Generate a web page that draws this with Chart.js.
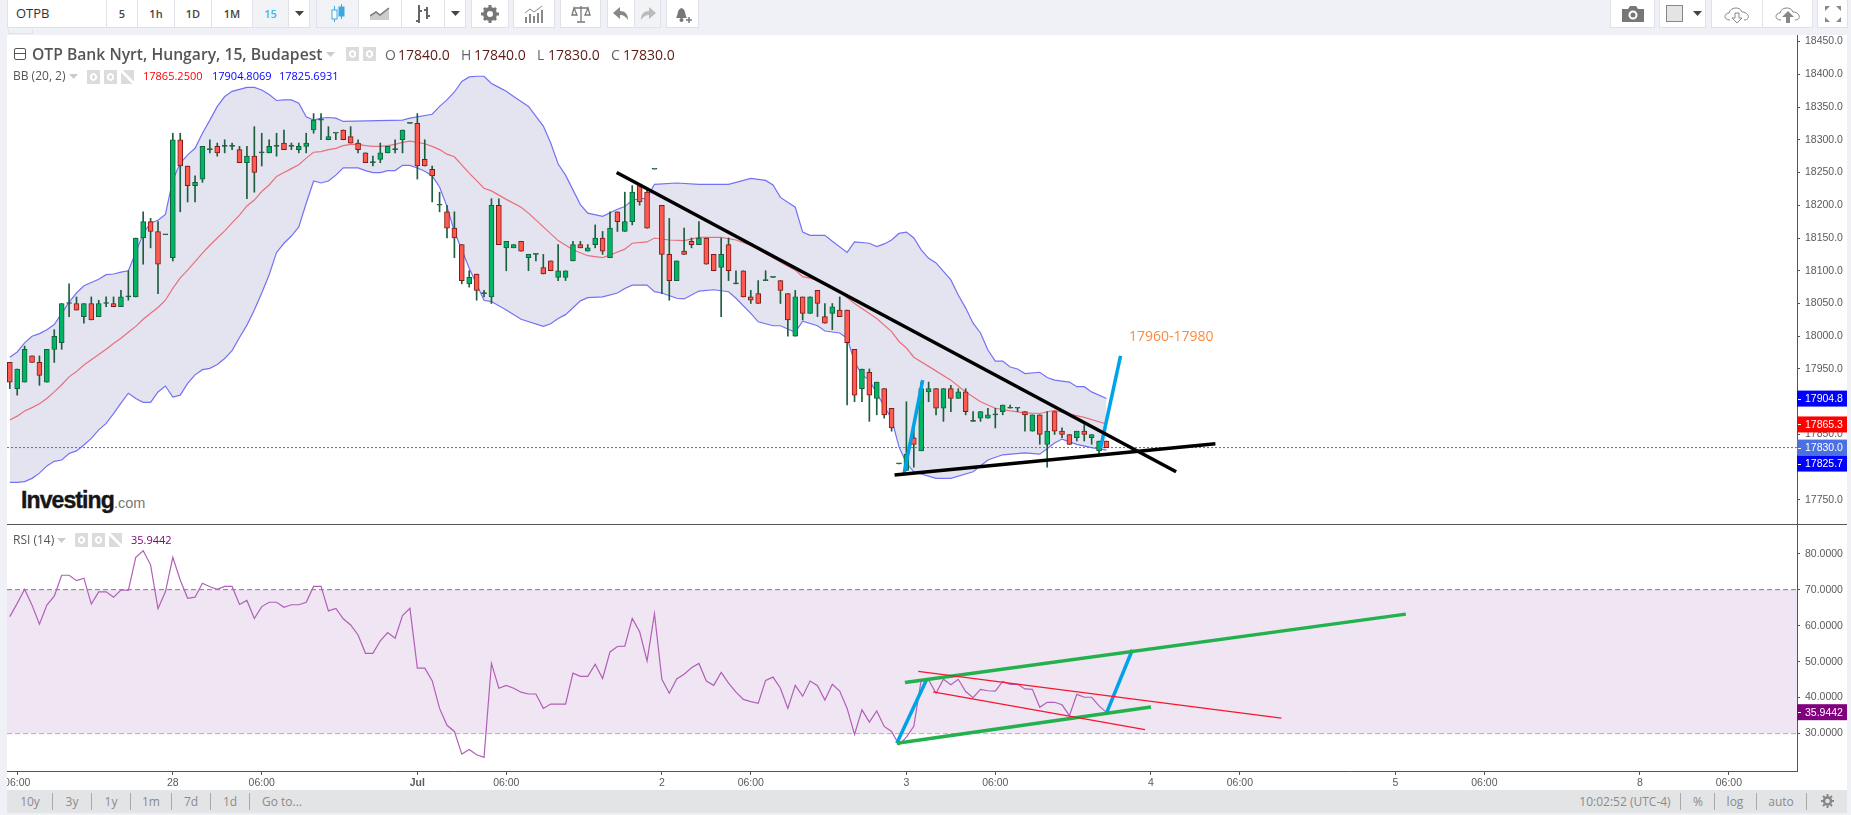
<!DOCTYPE html>
<html>
<head>
<meta charset="utf-8">
<title>OTPB</title>
<script src="https://cdn.jsdelivr.net/npm/chart.js@4"></script>
<style>
html, body { margin: 0; padding: 0; }
body { width: 1851px; height: 815px; background: #eff1f6; overflow: hidden; position: relative; font-family: "Open Sans", sans-serif; color: #555; }
.b { position: absolute; top: 0; height: 28px; line-height: 27px; background: #fff; border: 1px solid #dfe2e8; border-top: 0; box-sizing: border-box; text-align: center; font-size: 11px; color: #444; font-weight: 600; }
.b svg { vertical-align: middle; margin-top: -3px; }
.t { position: absolute; white-space: nowrap; }
.c { position: absolute; white-space: nowrap; transform: translateX(-50%); top: 793px; font-size: 12px; color: #8b8b8b; }
.s { position: absolute; top: 793px; height: 17px; width: 1px; background: #a9a9ab; }
.g { position: absolute; width: 13px; height: 14px; background: radial-gradient(circle at center, #dcdcdc 1.5px, #fff 2px, #fff 3.5px, #dcdcdc 4px); }
.x { background: linear-gradient(45deg, #dcdcdc 44%, #fff 44%, #fff 56%, #dcdcdc 56%); }
#pane { position: absolute; left: 7px; top: 35px; width: 1840px; height: 755px; background: #fff; }
#bar { position: absolute; left: 7px; top: 790px; width: 1840px; height: 23px; background: #e3e4e6; }
#priceChart { position: absolute; left: 7px; top: 35px; }
#rsiChart { position: absolute; left: 7px; top: 524px; }
#split { position: absolute; left: 7px; top: 524px; width: 1840px; height: 1px; background: #555; }
</style>
</head>
<body>
<div class="b" style="left:7px;width:100px;text-align:left;padding-left:8px;font-size:13px;font-weight:400;color:#333">OTPB</div>
<div class="b" style="left:106px;width:32px">5</div>
<div class="b" style="left:137px;width:38px">1h</div>
<div class="b" style="left:174px;width:38px">1D</div>
<div class="b" style="left:211px;width:42px">1M</div>
<div class="b" style="left:252px;width:37px;background:#f2f3f6;color:#4ab3e8">15</div>
<div class="b" style="left:288px;width:22px"><svg width="9" height="5"><path d="M0 0H9L4.5 5Z" fill="#444"/></svg></div>
<div class="b" style="left:316px;width:43px;background:#f2f3f6"><svg width="16" height="22"><g fill="none" stroke="#3ca8e0"><path d="M4.5 3V19M11.5 1V16"/><rect x="2" y="7" width="5" height="9" fill="#fff"/><rect x="9" y="4" width="5" height="9" fill="#3ca8e0"/></g></svg></div>
<div class="b" style="left:358px;width:44px"><svg width="20" height="14"><path d="M0 13V9L6 5L10 8L19 1V13Z" fill="#ccc"/><path d="M0 9L6 5L10 8L19 1" fill="none" stroke="#777" stroke-width="1.5"/></svg></div>
<div class="b" style="left:401px;width:44px"><svg width="18" height="22"><path d="M5 2V20M13 4V16M2 18H5M5 8H8M10 7H13M13 13H16" stroke="#666" stroke-width="2" fill="none"/></svg></div>
<div class="b" style="left:444px;width:22px"><svg width="9" height="5"><path d="M0 0H9L4.5 5Z" fill="#444"/></svg></div>
<div class="b" style="left:471px;width:38px"><svg width="18" height="18"><circle cx="9" cy="9" r="5" fill="none" stroke="#777" stroke-width="4"/><path d="M9 0V3M9 15V18M0 9H3M15 9H18M3 3L5 5M13 13L15 15M15 3L13 5M5 13L3 15" stroke="#777" stroke-width="3"/></svg></div>
<div class="b" style="left:513px;width:42px"><svg width="20" height="18"><path d="M2 18V12M6 18V9M10 18V11M14 18V8M18 18V5" stroke="#888" stroke-width="2"/><path d="M1 8L6 4L10 7L18 1" fill="none" stroke="#888"/></svg></div>
<div class="b" style="left:560px;width:41px"><svg width="20" height="18"><path d="M10 1V16M6 17H14M3 3H17M3 3L1 10H6ZM17 3L14 10H19Z" fill="none" stroke="#777" stroke-width="1.3"/></svg></div>
<div class="b" style="left:607px;width:28px"><svg width="16" height="14"><path d="M7 0L0 6L7 12V8C11 8 13 10 15 13C15 7 12 4 7 4Z" fill="#888"/></svg></div>
<div class="b" style="left:634px;width:27px;background:#f2f3f6"><svg width="16" height="14"><path d="M9 0L16 6L9 12V8C5 8 3 10 1 13C1 7 4 4 9 4Z" fill="#bbb"/></svg></div>
<div class="b" style="left:666px;width:33px"><svg width="20" height="20"><path d="M3 14C5 12 4 5 8.500 4C13 5 12 12 14 14Z" fill="#777"/><circle cx="8.500" cy="16" r="2" fill="#777"/><path d="M13 16H19M16 13V19" stroke="#777" stroke-width="1.5"/></svg></div>
<div class="b" style="left:1610px;width:45px"><svg width="22" height="17"><path d="M0 4H6L8 1H14L16 4H22V17H0Z" fill="#777"/><circle cx="11" cy="10" r="3.500" fill="none" stroke="#fff" stroke-width="2"/></svg></div>
<div class="b" style="left:1659px;width:47px;text-align:left;padding-left:6px"><svg width="17" height="17"><rect x=".5" y=".5" width="16" height="16" fill="#e4e4e4" stroke="#888"/></svg><svg width="9" height="5" style="margin-left:10px"><path d="M0 0H9L4.500 5Z" fill="#444"/></svg></div>
<div class="b" style="left:1711px;width:52px"><svg width="28" height="18"><path d="M7 15C0 15 1 8 6 8C7 2 17 1 19 7C26 7 28 15 21 15" fill="none" stroke="#888"/><path d="M12 8H16V13H19L14 18L9 13H12Z" fill="#fff" stroke="#888"/></svg></div>
<div class="b" style="left:1762px;width:51px"><svg width="28" height="18"><path d="M7 15C0 15 1 8 6 8C7 2 17 1 19 7C26 7 28 15 21 15" fill="none" stroke="#888"/><path d="M12 18V12H8L14 6L20 12H16V18Z" fill="#888"/></svg></div>
<div class="b" style="left:1817px;width:31px"><svg width="18" height="18"><path d="M1 1H6L1 6ZM17 1H12L17 6ZM1 17H6L1 12ZM17 17H12L17 12Z" fill="#888"/></svg></div>
<div class="t" style="left:8px;top:29px;width:25px;height:5px;border:1px solid #dfe2e8;border-top:0;box-sizing:border-box"></div>
<div id="pane"></div>
<div class="t" style="left:21px;top:487px;font:bold 23px 'Liberation Sans';letter-spacing:-.9px;color:#161616;-webkit-text-stroke:.4px #161616">Investing<span style="font:14.500px 'Liberation Sans';letter-spacing:0;color:#777;-webkit-text-stroke:0">.com</span></div>
<canvas id="priceChart" width="1840" height="489"></canvas>
<canvas id="rsiChart" width="1840" height="266"></canvas>
<div id="split"></div>
<div id="bar"></div>

<div class="t" style="left:14px;top:48px;width:10px;height:10px;border:1px solid #555;border-radius:2px"></div>
<div class="t" style="left:14px;top:53px;width:12px;height:1px;background:#555"></div>
<div class="t" style="left:32px;top:43px;font-size:15.700px;font-weight:600;color:#555">OTP Bank Nyrt, Hungary, 15, Budapest</div>
<svg class="t" style="left:326px;top:52px" width="9" height="5"><path d="M0 0H9L4.500 5Z" fill="#ccc"/></svg>
<div class="g" style="left:346px;top:47px"></div><div class="g" style="left:363px;top:47px"></div>
<div class="t" style="left:385px;top:45px;font-size:14px;color:#666">O</div>
<div class="t" style="left:398px;top:45px;font-size:14px;color:#5c1a14">17840.0</div>
<div class="t" style="left:461px;top:45px;font-size:14px;color:#666">H</div>
<div class="t" style="left:474px;top:45px;font-size:14px;color:#5c1a14">17840.0</div>
<div class="t" style="left:537px;top:45px;font-size:14px;color:#666">L</div>
<div class="t" style="left:548px;top:45px;font-size:14px;color:#5c1a14">17830.0</div>
<div class="t" style="left:611px;top:45px;font-size:14px;color:#666">C</div>
<div class="t" style="left:623px;top:45px;font-size:14px;color:#5c1a14">17830.0</div>

<div class="t" style="left:13px;top:67px;font-size:12px;color:#555">BB (20, 2)</div>
<svg class="t" style="left:69px;top:74px" width="9" height="5"><path d="M0 0H9L4.500 5Z" fill="#ccc"/></svg>
<div class="g" style="left:87px;top:70px"></div><div class="g" style="left:104px;top:70px"></div><div class="g x" style="left:121px;top:70px"></div>
<div class="t" style="left:143px;top:68px;font-size:11px;color:#f00">17865.2500</div>
<div class="t" style="left:212px;top:68px;font-size:11px;color:#00f">17904.8069</div>
<div class="t" style="left:279px;top:68px;font-size:11px;color:#00f">17825.6931</div>

<div class="t" style="left:1129px;top:326px;font-size:14px;color:#ff8a3c">17960-17980</div>

<div class="t" style="left:13px;top:531px;font-size:12px;color:#555">RSI (14)</div>
<svg class="t" style="left:57px;top:538px" width="9" height="5"><path d="M0 0H9L4.500 5Z" fill="#ccc"/></svg>
<div class="g" style="left:75px;top:533px"></div><div class="g" style="left:92px;top:533px"></div><div class="g x" style="left:109px;top:533px"></div>
<div class="t" style="left:131px;top:532px;font-size:11px;color:#800080">35.9442</div>

<span class="c" style="left:30px">10y</span><span class="c" style="left:72px">3y</span><span class="c" style="left:111px">1y</span><span class="c" style="left:151px">1m</span><span class="c" style="left:191px">7d</span><span class="c" style="left:230px">1d</span><span class="c" style="left:282px">Go to...</span>
<i class="s" style="left:52px"></i><i class="s" style="left:91px"></i><i class="s" style="left:130px"></i><i class="s" style="left:171px"></i><i class="s" style="left:210px"></i><i class="s" style="left:249px"></i>
<span class="c" style="left:1625px">10:02:52 (UTC-4)</span><span class="c" style="left:1698px">%</span><span class="c" style="left:1735px">log</span><span class="c" style="left:1781px">auto</span>
<i class="s" style="left:1680px"></i><i class="s" style="left:1714px"></i><i class="s" style="left:1756px"></i><i class="s" style="left:1806px"></i>
<svg class="t" style="left:1821px;top:794px" width="13" height="14"><circle cx="6.500" cy="7" r="3.500" fill="none" stroke="#888" stroke-width="2.500"/><path d="M6.500 0V3M6.500 11V14M0 7H3M10 7H13M2 2L4 4M9 10L11 12M11 2L9 4M4 10L2 12" stroke="#888" stroke-width="2"/></svg>

<script>
// 15 minute bars, bar number is the x value
const opens = [17960,17920,17930,17970,17960,17930,17980,17990,18050,18050,18030,18050,18030,18050,18050,18045,18060,18060,18150,18175,18160,18155,18120,18300,18260,18230,18240,18285,18290,18290,18290,18285,18265,18275,18280,18280,18290,18295,18290,18285,18290,18315,18330,18300,18310,18315,18305,18295,18280,18265,18270,18280,18285,18300,18325,18325,18270,18255,18200,18190,18165,18140,18080,18095,18065,18060,18200,18135,18135,18145,18120,18125,18105,18115,18090,18090,18115,18140,18130,18140,18150,18120,18190,18160,18175,18230,18220,18255,18200,18125,18085,18130,18145,18140,18150,18125,18105,18140,18080,18100,18060,18065,18085,18090,18085,18065,18000,18060,18035,18070,18030,18035,18040,18040,17980,17920,17945,17905,17920,17890,17805,17795,17845,17825,17915,17920,17890,17920,17905,17915,17870,17875,17875,17880,17885,17890,17890,17885,17855,17880,17835,17885,17855,17850,17845,17855,17845,17825,17840];
const closes = [17930,17950,17980,17960,17940,17980,18000,18050,18050,18040,18050,18025,18050,18050,18045,18060,18060,18150,18175,18160,18110,18155,18300,18260,18230,18235,18290,18285,18280,18290,18290,18265,18275,18250,18280,18290,18290,18285,18290,18290,18295,18330,18330,18305,18310,18300,18295,18285,18265,18265,18280,18290,18285,18315,18325,18260,18260,18245,18200,18165,18150,18085,18090,18070,18065,18200,18140,18145,18140,18130,18125,18125,18095,18100,18100,18100,18140,18135,18135,18150,18130,18165,18175,18175,18220,18205,18165,18255,18125,18085,18115,18125,18140,18150,18110,18100,18125,18100,18080,18060,18055,18050,18085,18090,18070,18025,18060,18035,18060,18050,18020,18045,18030,17990,17910,17950,17910,17930,17880,17860,17805,17820,17835,17920,17920,17890,17920,17905,17915,17885,17870,17885,17880,17880,17895,17890,17890,17880,17880,17850,17855,17855,17850,17835,17855,17850,17850,17840,17830];
const highs = [17960,17950,17985,17970,17970,17980,18010,18050,18080,18060,18050,18060,18055,18060,18060,18070,18100,18150,18190,18180,18175,18155,18310,18310,18260,18245,18290,18300,18295,18300,18295,18290,18290,18320,18310,18300,18310,18315,18295,18295,18310,18340,18340,18320,18310,18315,18320,18300,18280,18275,18295,18290,18300,18315,18325,18340,18300,18260,18220,18200,18190,18140,18100,18095,18070,18210,18210,18145,18140,18145,18125,18125,18125,18115,18140,18100,18145,18145,18140,18170,18160,18190,18190,18220,18230,18230,18226,18255,18200,18180,18115,18165,18150,18175,18150,18125,18150,18150,18100,18100,18070,18085,18100,18090,18085,18065,18070,18060,18060,18070,18050,18050,18060,18040,17980,17950,17950,17930,17920,17890,17805,17900,17865,17930,17930,17920,17920,17925,17920,17920,17885,17885,17890,17890,17895,17895,17890,17885,17880,17880,17885,17885,17860,17850,17855,17865,17850,17840,17840];
const lows = [17920,17910,17930,17960,17925,17930,17960,17980,18030,18040,18020,18025,18030,18045,18045,18045,18055,18060,18110,18135,18065,18155,18115,18190,18205,18205,18235,18280,18275,18280,18285,18265,18210,18220,18260,18280,18275,18285,18285,18280,18280,18310,18300,18300,18300,18300,18295,18280,18265,18260,18265,18280,18280,18280,18325,18240,18260,18205,18190,18150,18120,18080,18075,18055,18060,18050,18140,18100,18135,18130,18100,18115,18095,18100,18085,18085,18115,18135,18130,18135,18125,18120,18160,18160,18170,18200,18165,18255,18065,18055,18085,18125,18135,18140,18110,18100,18030,18085,18080,18060,18050,18050,18085,18090,18050,18000,18000,18025,18035,18030,18020,18010,18030,17895,17900,17900,17870,17880,17875,17855,17805,17795,17800,17825,17900,17880,17870,17885,17905,17880,17870,17870,17875,17860,17880,17890,17885,17855,17855,17835,17800,17850,17845,17835,17840,17840,17835,17820,17830];

// bollinger bands, read at the corners of each line
const upperBars = [0,1,2,3,4,5,6,7,8,9,10,11,12,13,14,15,16,17,18,19,20,21,22,23,24,25,26,27,28,29,30,31,32,33,34,35,36,37,38,39,40,41,42,43,44,45,53,54,57,58,59,60,61,62,63,64,65,66,67,68,70,72,73,74,75,77,78,80,82,83,84,86,87,90,93,97,100,102,103,104,106,107,108,110,111,113,114,116,117,118,119,120,121,122,123,124,125,126,127,128,129,130,131,132,133,134,135,136,137,139,140,141,143,144,145,146,148];
const upperVals = [17968,17976,17990,18000,18004,18010,18018,18035,18052,18066,18077,18082,18087,18094,18095,18098,18100,18128,18157,18173,18177,18186,18239,18264,18277,18287,18310,18330,18351,18366,18374,18377,18380,18380,18376,18369,18360,18361,18361,18356,18335,18330,18333,18334,18333,18328,18330,18333,18339,18351,18361,18373,18389,18396,18397,18397,18386,18380,18374,18366,18351,18321,18295,18263,18246,18201,18188,18183,18194,18198,18208,18211,18232,18234,18232,18232,18241,18238,18231,18212,18197,18159,18154,18154,18145,18128,18144,18142,18137,18141,18147,18157,18159,18150,18132,18119,18112,18099,18086,18063,18043,18020,18005,17979,17962,17962,17953,17950,17943,17945,17937,17933,17930,17923,17923,17915,17905];
const midBars = [0,1,2,3,4,5,6,7,8,9,10,11,12,13,14,15,16,17,18,19,20,21,22,23,24,25,26,27,28,29,30,31,32,33,34,35,36,37,38,39,40,41,42,43,44,45,46,47,48,49,50,51,52,53,54,55,56,57,58,59,60,62,64,65,67,69,70,72,74,76,78,80,81,83,84,86,87,89,91,93,96,98,100,102,105,106,107,109,112,114,117,119,120,121,122,124,127,129,131,133,135,137,139,141,143,145,148];
const midVals = [17872,17878,17886,17891,17897,17905,17915,17926,17938,17946,17956,17964,17972,17980,17989,17997,18006,18015,18026,18035,18044,18055,18073,18089,18101,18114,18127,18139,18150,18161,18173,18185,18199,18208,18221,18231,18244,18250,18256,18262,18272,18281,18282,18285,18287,18291,18293,18293,18291,18290,18290,18291,18293,18296,18298,18296,18294,18290,18285,18278,18274,18249,18226,18222,18209,18197,18188,18167,18146,18132,18123,18120,18124,18133,18142,18144,18150,18147,18146,18151,18151,18147,18139,18126,18107,18101,18091,18086,18068,18050,18027,18007,17992,17982,17968,17954,17933,17915,17900,17890,17886,17883,17882,17887,17881,17876,17866];
const lowerBars = [0,1,2,3,4,5,6,7,8,9,10,11,12,13,14,15,16,17,18,19,20,21,22,23,24,25,26,27,28,29,30,31,32,33,34,35,36,37,38,39,40,41,42,43,44,45,46,47,48,49,50,51,52,53,54,55,56,57,58,59,60,62,64,65,67,69,72,73,74,75,77,78,80,82,83,84,86,87,88,90,91,93,95,97,98,100,101,103,104,106,107,109,110,112,113,114,115,116,117,118,119,120,121,122,125,127,130,132,134,137,139,141,142,144,146,148];
const lowerVals = [17777,17777,17778,17783,17791,17802,17809,17811,17821,17825,17834,17844,17857,17867,17882,17898,17913,17905,17899,17899,17915,17924,17907,17910,17928,17941,17949,17951,17957,17966,17978,17998,18017,18040,18066,18094,18128,18142,18153,18167,18203,18237,18234,18237,18246,18257,18257,18257,18253,18250,18250,18253,18253,18261,18261,18257,18252,18245,18228,18198,18160,18104,18055,18053,18040,18026,18015,18019,18027,18033,18054,18059,18060,18066,18073,18078,18078,18068,18066,18058,18057,18069,18071,18068,18058,18035,18022,18016,18016,18006,18023,18016,18008,18005,17997,17961,17941,17933,17913,17893,17874,17831,17806,17793,17783,17783,17793,17811,17819,17822,17820,17837,17843,17835,17830,17826];

const rsiVals = [62.5,66.2,70.1,65.7,60.4,65.7,68.2,74,74,72.5,73.2,66,69.4,69.4,67.9,69.9,69.8,79,80.8,76.9,64.7,69.4,79,72.7,67.6,67.9,71.8,70.8,70.1,70.9,70.9,65.9,67,62,65.3,66.5,66.5,65.1,65.8,65.8,66.5,70.9,70.9,64.1,64.8,61.9,60.2,57.4,52.3,52.3,55.8,58.1,56.5,62.8,64.8,48.2,48.2,44.7,37,32.3,30.6,24.3,25.6,24.1,23.4,49.5,42.6,43.4,42.6,41.5,41,41,37,38.2,38.2,38.2,46.8,45.9,45.9,49.3,45.3,52.7,54.2,54.3,62,58.3,50.2,63.3,45.1,41.2,45.2,46.5,48.3,49.5,44.6,43.4,47,44,41.5,39.5,38.9,38.4,44.8,45.7,42.6,37,43.4,40.4,44.6,43.3,39.3,43.7,41.8,37,29.8,36.6,33.2,36.3,32,30.6,26.9,29,32,44.9,44.9,41.2,45.1,43.6,45.1,41.7,40,42.3,41.9,41.8,44.5,43.7,43.7,42.4,42.3,37.3,38.7,38.7,38,35,40.9,40.1,40.1,37.7,35.9];

// hand drawn lines, [bar, value, bar, value]
const blackLines = [[81.9,18250,157.4,17793],[119.4,17788,162.7,17836]];
const priceBlueLines = [[120.7,17791,123.2,17933],[147.2,17829,149.9,17970]];
const greenLines = [[120.8,44.2,188.4,63.2],[119.7,27.3,154,37.4]];
const redLines = [[122.6,47.3,171.6,34.3],[124.6,41.6,153.2,31.1]];
const rsiBlueLines = [[119.7,27.3,123.7,44.9],[148,35.7,151.5,53.3]];

const lastPrice = 17830;
const rsiLevels = [70, 30];
const priceBoxes = [[17904.8,'#0000ff'],[17865.3,'#ff0000'],[17830.0,'#4b70e2'],[17825.7,'#0000ff']];
const rsiBoxes = [[35.9442,'#800080']];
const rsiTicks = [80,70,60,50,40,30];
const timeTicks = [1,22,34,55,67,88,100,121,133,154,166,187,199,220,232];
const timeLabels = ['06:00','28','06:00','Jul','06:00','2','06:00','3','06:00','4','06:00','5','06:00','8','06:00'];

const xMin = -0.378, xMax = 241.19;
const tickFont = { family: 'Liberation Sans', size: 10.5 };

function pairs(xs, ys) {
    return xs.map((x, i) => ({ x: x, y: ys[i] }));
}

function segment(s, color, width) {
    return { type: 'line', data: [{ x: s[0], y: s[1] }, { x: s[2], y: s[3] }], borderColor: color, borderWidth: width, pointRadius: 0, order: 1 };
}

function boxPlugin(boxes, digits) {
    return {
        id: 'axisBoxes',
        afterDraw(chart) {
            const s = chart.scales.y, c = chart.ctx;
            let last = -100;
            c.save();
            c.font = '10.5px "Liberation Sans"';
            c.textBaseline = 'middle';
            boxes.forEach(b => {
                let y = Math.max(s.getPixelForValue(b[0]), last + 16);
                last = y;
                c.fillStyle = b[1];
                c.fillRect(s.left, y - 8, 50, 16);
                c.fillStyle = '#fff';
                c.fillRect(s.left + 1, Math.round(y), 3, 1);
                c.fillText(b[0].toFixed(digits), s.left + 8, y + 0.5);
            });
            c.restore();
        }
    };
}

function sideAxis(min, max, digits) {
    return {
        position: 'right', min: min, max: max,
        border: { color: '#555' },
        grid: { drawOnChartArea: false, tickLength: 3, color: '#555' },
        ticks: { stepSize: 50, includeBounds: false, font: tickFont, color: '#5a5a5a', padding: 5, callback: v => v.toFixed(digits) },
        afterFit(s) { s.width = 50; s.paddingTop = 0; s.paddingBottom = 0; }
    };
}

const common = {
    responsive: false, animation: false, events: [],
    plugins: { legend: { display: false }, tooltip: { enabled: false } },
    elements: { line: { tension: 0 } }
};

const bars = opens.map((o, i) => i);
const wicks = bars.map(i => ({ x: i, y: [lows[i], highs[i]] }));
const bodies = bars.map(i => ({ x: i, y: [Math.min(opens[i], closes[i]), Math.max(opens[i], closes[i])] }));
const bodyFill = bars.map(i => opens[i] == closes[i] ? '#1d5e3e' : closes[i] > opens[i] ? '#00b666' : '#ff5a50');
const bodyEdge = bars.map(i => opens[i] == closes[i] ? '#1d5e3e' : closes[i] > opens[i] ? '#14603c' : '#7d1b16');

new Chart(document.getElementById('priceChart'), {
    type: 'bar',
    data: {
        datasets: [
            { type: 'line', data: pairs(upperBars, upperVals), borderColor: '#7272f5', borderWidth: 1.2, pointRadius: 0, order: 6 },
            { type: 'line', data: pairs(lowerBars, lowerVals), borderColor: '#7272f5', borderWidth: 1.2, pointRadius: 0, order: 6, fill: { target: 0 }, backgroundColor: '#e4e4f0' },
            { type: 'line', data: pairs(midBars, midVals), borderColor: '#e9707a', borderWidth: 1.2, pointRadius: 0, order: 5 },
            { type: 'line', data: [{ x: xMin, y: lastPrice }, { x: xMax, y: lastPrice }], borderColor: '#3d6df0', borderWidth: 1, borderDash: [2, 2], pointRadius: 0, order: 4 },
            { data: wicks, backgroundColor: '#1d5e3e', barThickness: 1, grouped: false, order: 3 },
            { data: bodies, backgroundColor: bodyFill, borderColor: bodyEdge, borderWidth: 1, borderSkipped: false, barThickness: 5, minBarLength: 1, grouped: false, order: 2 },
            ...blackLines.map(s => segment(s, '#000', 3.5)),
            ...priceBlueLines.map(s => segment(s, '#00a2e8', 3.5))
        ]
    },
    options: {
        ...common,
        scales: {
            x: { type: 'linear', display: false, min: xMin, max: xMax, offset: false },
            y: sideAxis(17713.3, 18460, 1)
        }
    },
    plugins: [boxPlugin(priceBoxes, 1)]
});

new Chart(document.getElementById('rsiChart'), {
    type: 'line',
    data: {
        datasets: [
            { data: [{ x: xMin, y: rsiLevels[0] }, { x: xMax, y: rsiLevels[0] }], borderColor: '#857a85', borderWidth: 1, borderDash: [5, 3], pointRadius: 0, order: 6, fill: { target: 1 }, backgroundColor: '#f0e5f2' },
            { data: [{ x: xMin, y: rsiLevels[1] }, { x: xMax, y: rsiLevels[1] }], borderColor: '#857a85', borderWidth: 1, borderDash: [5, 3], pointRadius: 0, order: 6 },
            { data: pairs(bars, rsiVals), borderColor: '#b060b8', borderWidth: 1.2, pointRadius: 0, order: 5 },
            ...redLines.map(s => segment(s, '#f5172f', 1.2)),
            ...greenLines.map(s => segment(s, '#22b14c', 3.5)),
            ...rsiBlueLines.map(s => segment(s, '#00a2e8', 3.5))
        ]
    },
    options: {
        ...common,
        scales: {
            x: {
                type: 'linear', min: xMin, max: xMax, offset: false,
                border: { color: '#555' },
                grid: { drawOnChartArea: false, tickLength: 4, color: '#555' },
                afterBuildTicks(s) { s.ticks = timeTicks.map(v => ({ value: v })); },
                afterFit(s) { s.height = 19; s.paddingLeft = 0; s.paddingRight = 0; },
                ticks: {
                    autoSkip: false, maxRotation: 0, padding: 2, color: '#5a5a5a',
                    font: ctx => ({ family: 'Liberation Sans', size: 10.5, weight: ctx.tick && ctx.tick.value == 55 ? 'bold' : 'normal' }),
                    callback: v => timeLabels[timeTicks.indexOf(v)]
                }
            },
            y: {
                ...sideAxis(19.6, 88.25, 4),
                afterBuildTicks(s) { s.ticks = rsiTicks.map(v => ({ value: v })); }
            }
        }
    },
    plugins: [boxPlugin(rsiBoxes, 4)]
});
</script>
</body>
</html>
